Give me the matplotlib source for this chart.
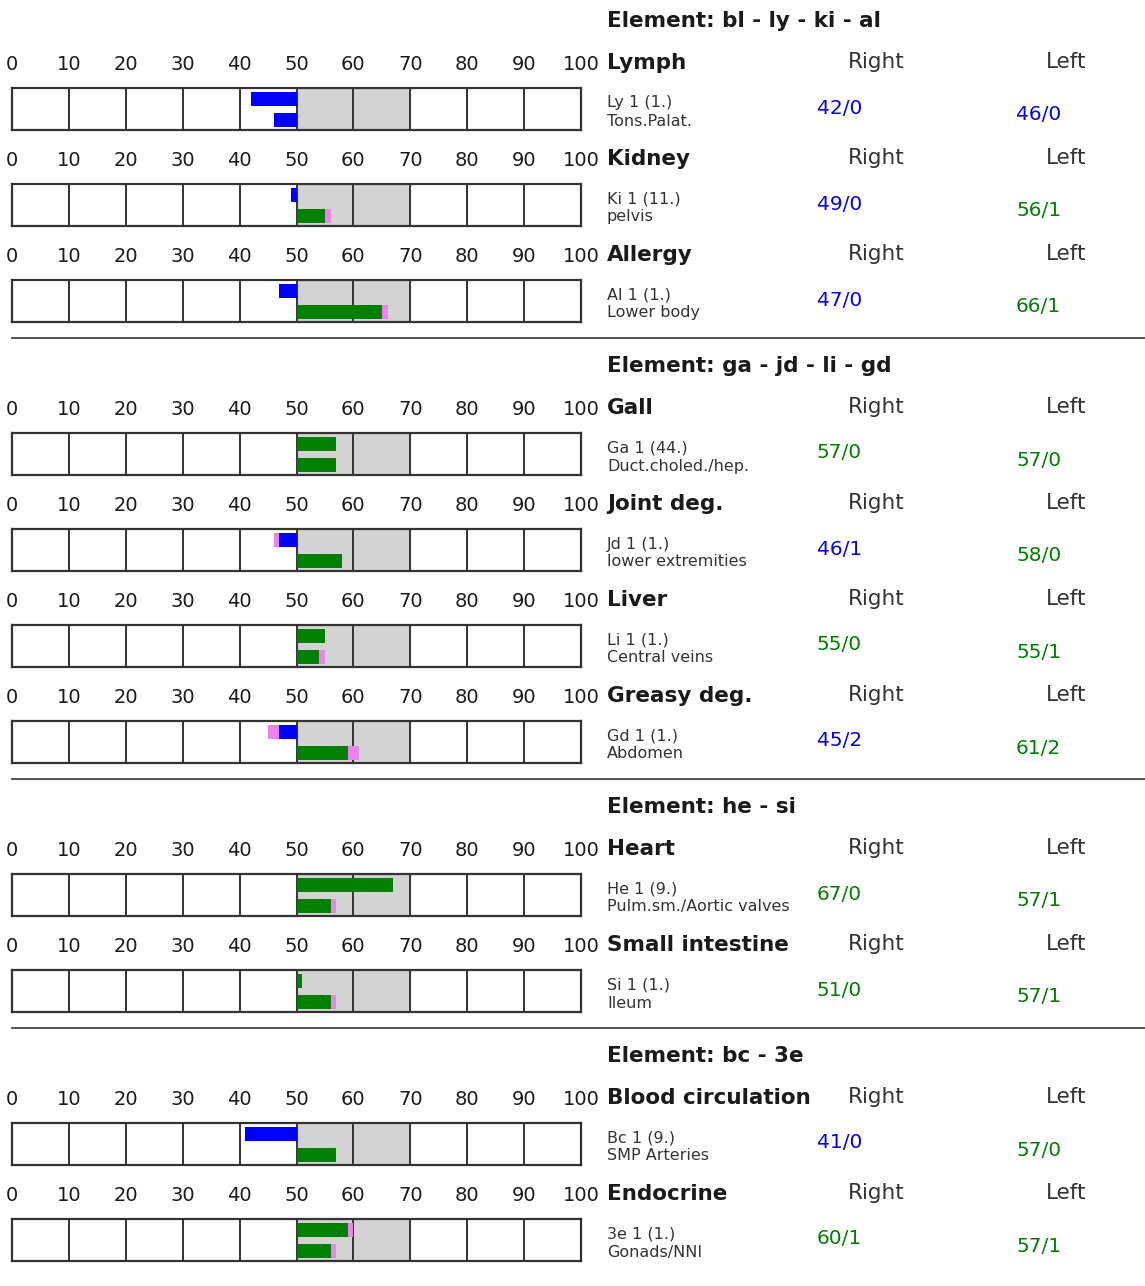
import matplotlib
matplotlib.use("Agg")
import matplotlib.pyplot as plt

headers = ["Element: bl - ly - ki - al", "Element: ga - jd - li - gd",
           "Element: he - si", "Element: bc - 3e"]
section_sizes = [3, 4, 2, 2]
organs = ["Lymph", "Kidney", "Allergy", "Gall", "Joint deg.", "Liver", "Greasy deg.",
          "Heart", "Small intestine", "Blood circulation", "Endocrine"]
codes = ["Ly 1 (1.)", "Ki 1 (11.)", "Al 1 (1.)", "Ga 1 (44.)", "Jd 1 (1.)", "Li 1 (1.)",
         "Gd 1 (1.)", "He 1 (9.)", "Si 1 (1.)", "Bc 1 (9.)", "3e 1 (1.)"]
locations = ["Tons.Palat.", "pelvis", "Lower body", "Duct.choled./hep.", "lower extremities",
             "Central veins", "Abdomen", "Pulm.sm./Aortic valves", "Ileum", "SMP Arteries",
             "Gonads/NNI"]
right_vals = [42, 49, 47, 57, 46, 55, 45, 67, 51, 41, 60]
right_pink = [0, 0, 0, 0, 1, 0, 2, 0, 0, 0, 1]
left_vals = [46, 56, 66, 57, 58, 55, 61, 57, 57, 57, 57]
left_pink = [0, 1, 1, 0, 0, 1, 2, 1, 1, 0, 1]
ticks = list(range(0, 101, 10))

W, H = 1145, 1286
fig = plt.figure(figsize=(W / 100, H / 100), dpi=100)
fig.patch.set_facecolor("white")

def fy(y):
    return 1 - y / H

def fx(x):
    return x / W

BLUE = "#0000ff"
GREEN = "#008000"
PINK = "#ee82ee"
EDGE = "#333333"
TXT = "#1a1a1a"

def draw_bar(ax, y, val, pink, h):
    base = 50
    if val < base:
        ax.barh(y, (val + pink) - base, left=base, height=h, color=BLUE, zorder=3)
        if pink:
            ax.barh(y, -pink, left=val + pink, height=h, color=PINK, zorder=3)
    else:
        ax.barh(y, (val - pink) - base, left=base, height=h, color=GREEN, zorder=3)
        if pink:
            ax.barh(y, pink, left=val - pink, height=h, color=PINK, zorder=3)

tick_y = 63
idx = 0
for s, (hdr, n) in enumerate(zip(headers, section_sizes)):
    if s > 0:
        tick_y += 153
    fig.text(fx(607), fy(tick_y - 42), hdr, fontsize=15.5, fontweight="bold",
             color=TXT, ha="left", va="center")
    for r in range(n):
        if r > 0:
            tick_y += 96
        top = tick_y + 25
        bottom = tick_y + 67
        ax = fig.add_axes([fx(12), fy(bottom), fx(581) - fx(12), (bottom - top) / H])
        ax.set_xlim(0, 100)
        ax.set_ylim(0, 1)
        ax.axvspan(50, 70, color="#d3d3d3", zorder=0)
        ax.vlines(ticks[1:-1], 0, 1, color=EDGE, lw=1.4, zorder=1)
        draw_bar(ax, 0.735, right_vals[idx], right_pink[idx], 0.33)
        draw_bar(ax, 0.24, left_vals[idx], left_pink[idx], 0.33)
        ax.xaxis.tick_top()
        ax.set_xticks(ticks)
        ax.set_xticklabels([str(t) for t in ticks], fontsize=14, color=TXT)
        ax.tick_params(axis="x", length=0, pad=10)
        ax.set_yticks([])
        for sp in ax.spines.values():
            sp.set_color(EDGE)
            sp.set_linewidth(1.6)
        fig.text(fx(607), fy(tick_y), organs[idx], fontsize=15.5, fontweight="bold",
                 color=TXT, ha="left", va="center")
        fig.text(fx(848), fy(tick_y - 1), "Right", fontsize=15.5, color="#333333",
                 ha="left", va="center")
        fig.text(fx(1046), fy(tick_y - 1), "Left", fontsize=15.5, color="#333333",
                 ha="left", va="center")
        fig.text(fx(607), fy(top + 15), codes[idx], fontsize=11.5, color="#333333",
                 ha="left", va="center")
        fig.text(fx(607), fy(top + 33), locations[idx], fontsize=11.5, color="#333333",
                 ha="left", va="center")
        rc = BLUE if right_vals[idx] < 50 else GREEN
        lc = BLUE if left_vals[idx] < 50 else GREEN
        fig.text(fx(817), fy(top + 20), f"{right_vals[idx]}/{right_pink[idx]}",
                 fontsize=14.5, color=rc, ha="left", va="center")
        fig.text(fx(1016), fy(top + 27), f"{left_vals[idx]}/{left_pink[idx]}",
                 fontsize=14.5, color=lc, ha="left", va="center")
        idx += 1
    if s < len(headers) - 1:
        sep = tick_y + 83
        fig.add_artist(plt.Line2D([fx(12), 1.0], [fy(sep), fy(sep)],
                                  color="#333333", lw=1.2, transform=fig.transFigure))

fig.savefig("out.png", dpi=100, facecolor="white")
